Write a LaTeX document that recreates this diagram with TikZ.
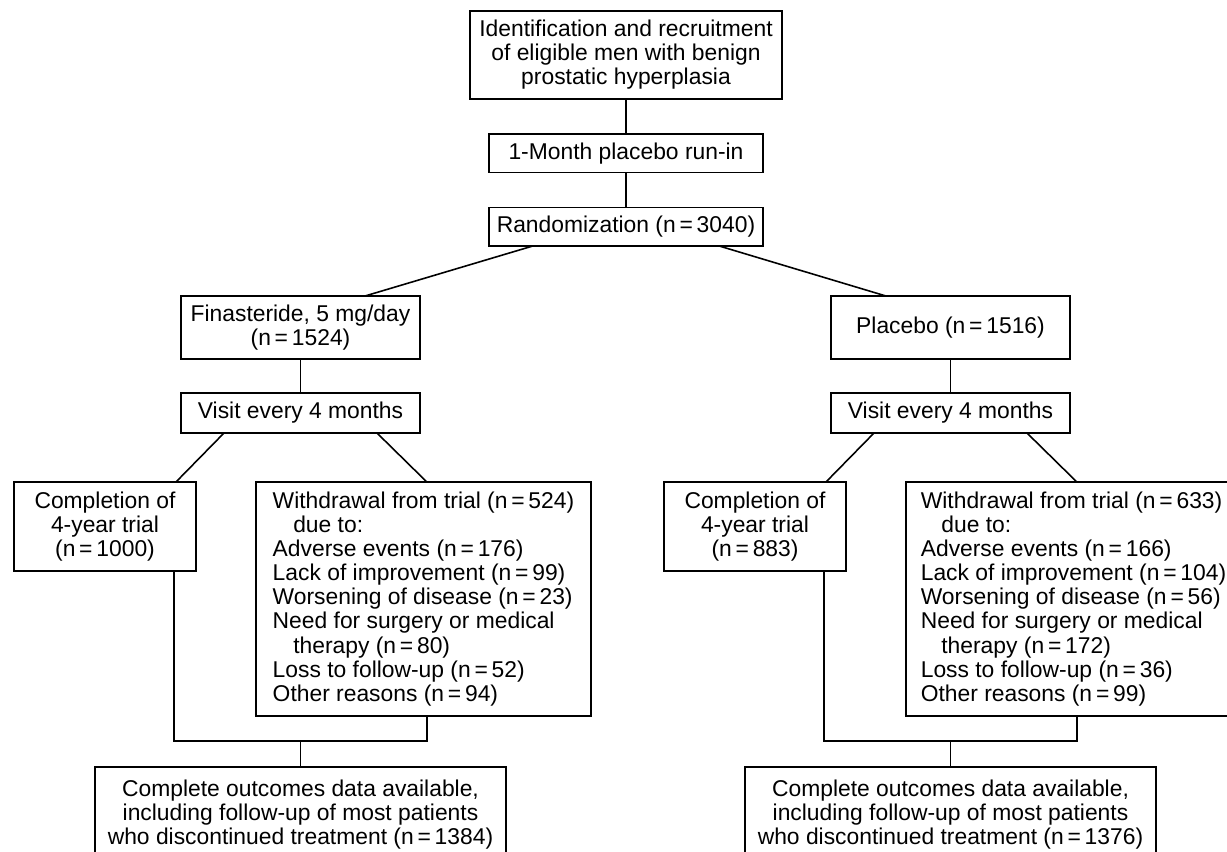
\documentclass[tikz,border=0pt]{standalone}
\usepackage{fontspec}
\setmainfont{Liberation Sans}
\usetikzlibrary{positioning,calc}
\newcommand{\nval}[1]{(n\,=\,#1)}
\newcommand{\boxfont}{\fontsize{13}{13.7}\selectfont}
\tikzset{
  box/.style={rectangle, draw=black, line width=1pt, align=center, inner sep=1pt, outer sep=0pt, font=\boxfont},
  topbox/.style={box, minimum width=6.24cm, minimum height=1.76cm},
  stepbox/.style={box, minimum width=5.48cm, minimum height=0.77cm},
  armbox/.style={box, minimum width=4.78cm, minimum height=1.26cm},
  visitbox/.style={box, minimum width=4.78cm, minimum height=0.8cm},
  donebox/.style={box, minimum width=3.64cm, minimum height=1.78cm},
  quitbox/.style={box, align=left, minimum width=6.7cm, minimum height=4.68cm},
  endbox/.style={box, minimum width=8.22cm, minimum height=1.9cm},
  link/.style={line width=0.9pt},
}

\begin{document}
\begin{tikzpicture}
\clip (-12.52,1.1) rectangle (12.02,-15.94);
\node[topbox] (ident) {Identification and recruitment\\of eligible men with benign\\prostatic hyperplasia};
\node[stepbox, below=0.7cm of ident] (runin) {1-Month placebo run-in};
\node[stepbox, below=0.7cm of runin] (rand) {Randomization \nval{3040}};
\node[armbox, below=1cm of rand, xshift=-6.51cm] (fin) {Finasteride, 5 mg/day\\\nval{1524}};
\node[armbox, below=1cm of rand, xshift=6.49cm] (plac) {Placebo \nval{1516}};
\node[visitbox, below=0.68cm of fin] (visitF) {Visit every 4 months};
\node[visitbox, below=0.68cm of plac] (visitP) {Visit every 4 months};
% finasteride arm
\node[donebox, below=0.98cm of visitF, xshift=-3.91cm] (doneF) {Completion of\\4-year trial\\\nval{1000}};
\node[quitbox, below=0.98cm of visitF, xshift=2.46cm] (quitF) {Withdrawal from trial \nval{524}\\
  \hspace*{0.9em}due to:\\
  Adverse events \nval{176}\\
  Lack of improvement \nval{99}\\
  Worsening of disease \nval{23}\\
  Need for surgery or medical\\
  \hspace*{0.9em}therapy \nval{80}\\
  Loss to follow-up \nval{52}\\
  Other reasons \nval{94}};
\node[endbox, below=1.02cm of quitF, xshift=-2.46cm] (endF) {Complete outcomes data available,\\including follow-up of most patients\\who discontinued treatment \nval{1384}};
% placebo arm
\node[donebox, below=0.98cm of visitP, xshift=-3.91cm] (doneP) {Completion of\\4-year trial\\\nval{883}};
\node[quitbox, below=0.98cm of visitP, xshift=2.46cm] (quitP) {Withdrawal from trial \nval{633}\\
  \hspace*{0.9em}due to:\\
  Adverse events \nval{166}\\
  Lack of improvement \nval{104}\\
  Worsening of disease \nval{56}\\
  Need for surgery or medical\\
  \hspace*{0.9em}therapy \nval{172}\\
  Loss to follow-up \nval{36}\\
  Other reasons \nval{99}};
\node[endbox, below=1.02cm of quitP, xshift=-2.46cm] (endP) {Complete outcomes data available,\\including follow-up of most patients\\who discontinued treatment \nval{1376}};

\draw[link] (ident) -- (runin);
\draw[link] (runin) -- (rand);
\draw[link] ($(rand.south west)!0.16!(rand.south east)$) -- ($(fin.north west)!0.77!(fin.north east)$);
\draw[link] ($(rand.south west)!0.84!(rand.south east)$) -- ($(plac.north west)!0.23!(plac.north east)$);
\foreach \a/\s in {fin/F, plac/P} {
  \draw[link] (\a) -- (visit\s);
  \draw[link] ($(visit\s.south west)!0.18!(visit\s.south east)$) -- ($(done\s.north west)!0.89!(done\s.north east)$);
  \draw[link] ($(visit\s.south west)!0.82!(visit\s.south east)$) -- ($(quit\s.north west)!0.51!(quit\s.north east)$);
  \coordinate (join\s) at ($(end\s.north)+(0,0.52)$);
  \draw[link] ($(done\s.south west)!0.88!(done\s.south east)$) |- (join\s) -| ($(quit\s.south west)!0.51!(quit\s.south east)$);
  \draw[link] (join\s) -- (end\s);
}
\end{tikzpicture}
\end{document}
